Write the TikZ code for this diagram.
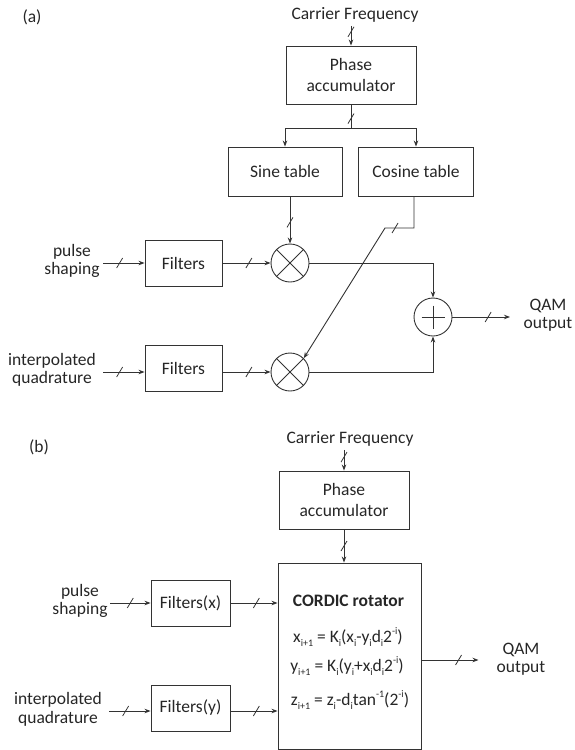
\documentclass[tikz,border=0pt]{standalone}
\usepackage{fontspec}
\setmainfont{Carlito}
\usetikzlibrary{arrows.meta,decorations.markings,calc}
\newcommand\fs{\fontsize{17.5}{18.5}\selectfont}
\newcommand\mysub[1]{\raisebox{-0.5ex}{\fontsize{10}{10}\selectfont #1}}
\newcommand\mysup[1]{\raisebox{0.95ex}{\fontsize{10}{10}\selectfont #1}}
\begin{document}
\begin{tikzpicture}[x=1pt,y=-1pt,line width=0.9pt,color=black!80,
  every node/.style={font=\fs,text=black!85},
  box/.style={draw,rectangle,inner sep=0pt,align=center},
  txt/.style={inner sep=0pt,align=center},
  mult/.style={draw,circle,minimum size=38pt,inner sep=0pt},
  arr/.style={-{Stealth[length=6pt,width=4.5pt]}},
  bus/.style={postaction={decorate,decoration={markings,mark=at position #1 with {\pgftransformresetnontranslations\draw[-,line width=0.8pt] (-3pt,-5pt) -- (3pt,5pt);}}}}]
\useasboundingbox (0,0) rectangle (575,750);
% ---------------- (a) ----------------
\node[txt] (lbla) at (32,17) {(a)};
\node[txt] (cf1) at (355,15) {Carrier Frequency};
\node[box,minimum width=130pt,minimum height=58pt] (pa1) at (351,75) {Phase\\[2pt]accumulator};
\node[box,minimum width=114pt,minimum height=49pt] (sin) at (285,171.5) {Sine table};
\node[box,minimum width=115pt,minimum height=49pt] (cos) at (416,171.5) {Cosine table};
\node[mult] (m1) at (290,263) {};
\node[mult] (m2) at (290,372) {};
\node[mult] (add) at (433,317) {};
\node[box,minimum width=77pt,minimum height=46pt] (f1) at (183.5,263) {Filters};
\node[box,minimum width=77pt,minimum height=46pt] (f2) at (183.5,368) {Filters};
\node[txt] (ps1) at (72,261) {pulse\\shaping};
\node[txt] (iq1) at (52,370) {interpolated\\quadrature};
\node[txt] (qam1) at (548,315) {QAM\\output};
\coordinate (br) at (351,128);
\coordinate (k1) at (414,228);
\coordinate (k2) at (385,228);
\coordinate (i1) at (103,263);
\coordinate (i2) at (103,372);
\coordinate (o1) at (510,317);
\draw (m1.45) -- (m1.225) (m1.135) -- (m1.315);
\draw (m2.45) -- (m2.225) (m2.135) -- (m2.315);
\draw ($(add)+(0,-11.5)$) -- ($(add)+(0,11.5)$) ($(add)+(-11.5,0)$) -- ($(add)+(11.5,0)$);
\draw[arr,bus=0.3] ([yshift=-3pt]pa1.north |- cf1.south) -- (pa1.north);
\draw[bus=0.6] (pa1.south) -- (br);
\draw[arr] (br) -| (sin.north);
\draw[arr] (br) -| (cos.north);
\draw[arr,bus=0.55] (sin.south -| m1) -- (m1.north);
\draw[arr,bus=0.236] (cos.south -| k1) -- (k1) -- (k2) -- (m2.45);
\draw[arr,bus=0.4] (i1) -- (f1);
\draw[arr,bus=0.4] (i2) -- (f2.west |- i2);
\draw[arr,bus=0.55] (f1) -- (m1);
\draw[arr,bus=0.55] (f2.east |- m2) -- (m2);
\draw[arr] (m1) -| (add);
\draw[arr] (m2) -| (add);
\draw[arr,bus=0.62] (add) -- (o1);
% ---------------- (b) ----------------
\node[txt] (lblb) at (39,447) {(b)};
\node[txt] (cf2) at (350,439) {Carrier Frequency};
\node[box,minimum width=130pt,minimum height=58pt] (pa2) at (344,500) {Phase\\[2pt]accumulator};
\node[box,minimum width=143pt,minimum height=186pt] (cor) at (349.5,656) {};
\node[txt,font=\fs\bfseries] (cort) at (348.5,601) {CORDIC rotator};
\node[txt] (eq1) at (348,637) {x\mysub{i+1} = K\mysub{i}(x\mysub{i}-y\mysub{i}d\mysub{i}2\mysup{-i})};
\node[txt] (eq2) at (347,666) {y\mysub{i+1} = K\mysub{i}(y\mysub{i}+x\mysub{i}d\mysub{i}2\mysup{-i})};
\node[txt] (eq3) at (350,700) {z\mysub{i+1} = z\mysub{i}-d\mysub{i}tan\mysup{-1}(2\mysup{-i})};
\node[box,minimum width=79pt,minimum height=46pt] (fx) at (190.5,603) {Filters(x)};
\node[box,minimum width=79pt,minimum height=46pt] (fy) at (190.5,708) {Filters(y)};
\node[txt] (ps2) at (80,601) {pulse\\shaping};
\node[txt] (iq2) at (58,709.5) {interpolated\\quadrature};
\node[txt] (qam2) at (521,659) {QAM\\output};
\coordinate (j1) at (110,603);
\coordinate (j2) at (109,711);
\coordinate (o2) at (478.5,660);
\draw[arr,bus=0.35] ([yshift=-3pt]pa2.north |- cf2.south) -- (pa2.north);
\draw[arr,bus=0.5] (pa2.south) -- (pa2.south |- cor.north);
\draw[arr,bus=0.5] (j1) -- (fx);
\draw[arr,bus=0.55] (fx) -- (fx -| cor.west);
\draw[arr,bus=0.4] (j2) -- (fy.west |- j2);
\draw[arr,bus=0.55] (fy.east |- j2) -- (cor.west |- j2);
\draw[arr,bus=0.65] (cor.east |- o2) -- (o2);
\end{tikzpicture}
\end{document}
